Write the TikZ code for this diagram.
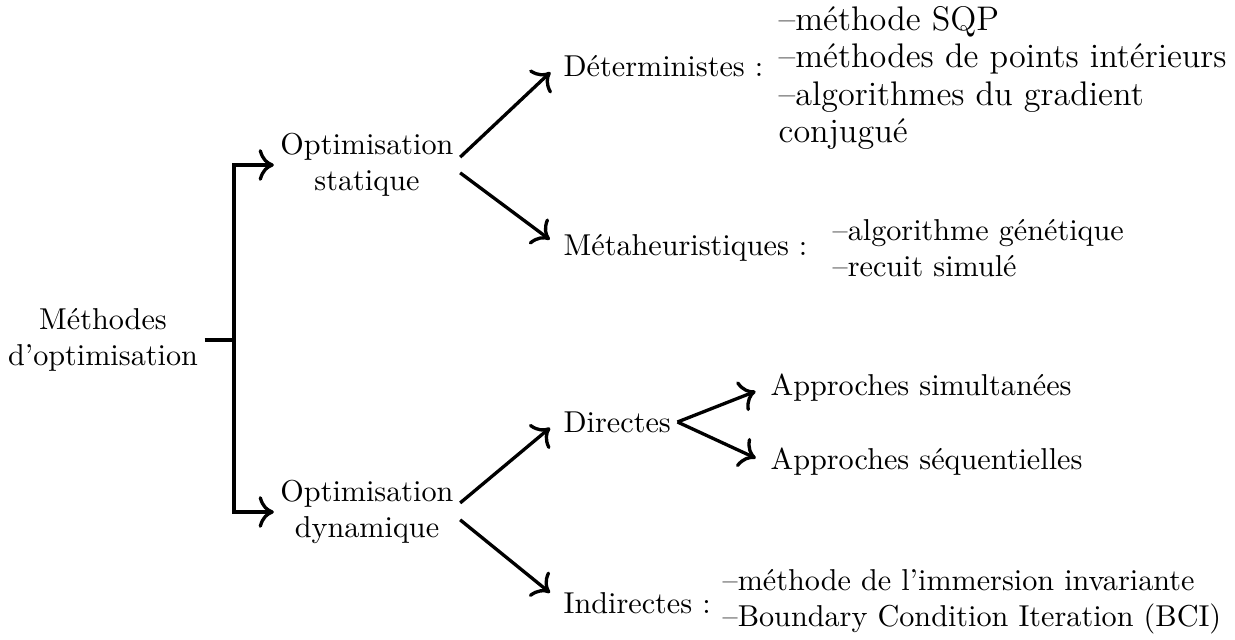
\documentclass[tikz,border=0pt]{standalone}
\usepackage{fontspec}
\usetikzlibrary{positioning,arrows.meta}

\begin{document}
\begin{tikzpicture}[>={To[scale=1.25]}, x=0.3311pt, y=-0.3311pt,
        every node/.style={inner sep=2pt},
        trait/.style={line width=1.1pt},
        fleche/.style={->, trait, shorten >=3pt},
        liste/.style={align=left, anchor=west}]
    \useasboundingbox (0,0) rectangle (1235,640);

    \node[align=center] (methodes) at (103,340) {Méthodes\\d'optimisation};
    \node[align=center] (stat) at (367,165) {Optimisation\\statique};
    \node[align=center] (dyn) at (367,512) {Optimisation\\dynamique};

    \node[anchor=west] (det) at (557,66) {Déterministes :};
    \node[anchor=west] (meta) at (557,248) {Métaheuristiques :};
    \node[anchor=west] (dir) at (557,422) {Directes};
    \node[anchor=west] (indir) at (557,603) {Indirectes :};

    \node[liste, font=\fontsize{11.3}{12.3}\selectfont] (detliste) at (772,78) {--méthode SQP\\--méthodes de points intérieurs\\--algorithmes du gradient\\conjugué};
    \node[liste] (metaliste) at (826,248) {--algorithme génétique\\--recuit simulé};
    \node[liste] (indirliste) at (716,602) {--méthode de l'immersion invariante\\--Boundary Condition Iteration (BCI)};

    \node[anchor=west] (simu) at (764,388) {Approches simultanées};
    \node[anchor=west] (sequ) at (764,462) {Approches séquentielles};

    % accolade de gauche
    \coordinate (fourche) at (234,340);
    \draw[trait] (methodes) -- (fourche);
    \draw[trait,<->] (stat) -| (fourche) |- (dyn);

    \draw[fleche] ([yshift=2.6pt]stat.east) -- (det.west);
    \draw[fleche] ([yshift=-2.6pt]stat.east) -- ([yshift=1pt]meta.west);
    \draw[fleche] ([yshift=3pt]dyn.east) -- (dir.west);
    \draw[fleche] ([yshift=-2.6pt]dyn.east) -- ([yshift=1.5pt]indir.west);
    \draw[fleche] (dir.east) -- (simu.west);
    \draw[fleche] (dir.east) -- (sequ.west);
\end{tikzpicture}
\end{document}
